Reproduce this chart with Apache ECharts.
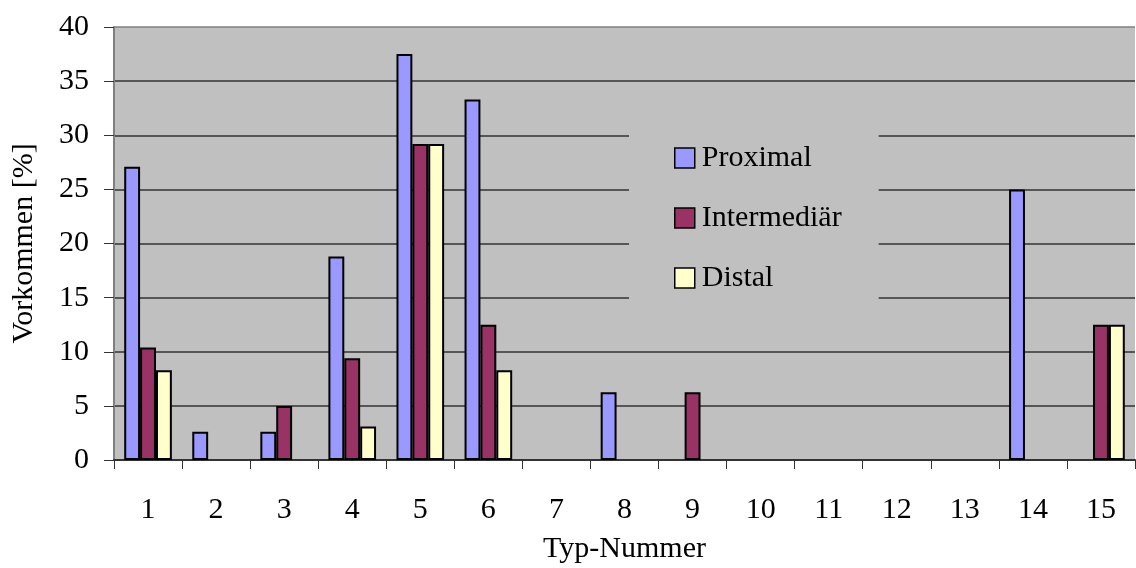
<!DOCTYPE html>
<html>
<head>
<meta charset="utf-8">
<script src="https://cdn.jsdelivr.net/npm/echarts@6/dist/echarts.min.js"></script>
<style>
  html, body { margin: 0; padding: 0; background: #fff; }
  #chart { width: 1136px; height: 568px; }
</style>
</head>
<body>
<div id="chart"></div>
<script>
// Occurrence of each type number, in percent, per region
const categories = ['1','2','3','4','5','6','7','8','9','10','11','12','13','14','15'];
const proximal    = [27.1, 2.6, 2.6, 18.8, 37.5, 33.3, 0, 6.25, 0, 0, 0, 0, 0, 25.0, 0];
const intermediaer = [10.4, 0, 5.0, 9.4, 29.2, 12.5, 0, 0, 6.25, 0, 0, 0, 0, 0, 12.5];
const distal      = [8.3, 0, 0, 3.1, 29.2, 8.3, 0, 0, 0, 0, 0, 0, 0, 0, 12.5];
const seriesNames = ['Proximal', 'Intermediär', 'Distal'];
const seriesColors = ['#9999FF', '#993366', '#FFFFCC'];
const yTicks = { min: 0, max: 40, interval: 5 };

const FONT = "'Liberation Serif', 'Times New Roman', serif";
const FS = 30;

// empty cells stay empty instead of drawing a flat bar
const toBarData = arr => arr.map(v => (v === 0 ? '-' : v));

const chart = echarts.init(document.getElementById('chart'), null, { renderer: 'canvas' });

const splitColors = [];
for (let v = yTicks.min; v <= yTicks.max; v += yTicks.interval) {
  splitColors.push(v === yTicks.max ? '#808080' : '#333333');
}

chart.setOption({
  animation: false,
  backgroundColor: '#ffffff',
  textStyle: { fontFamily: FONT, color: '#000' },
  grid: {
    left: 114, right: 1, top: 27, bottom: 108,
    containLabel: false,
    outerBoundsMode: 'none',
    show: true, backgroundColor: '#C0C0C0', borderColor: '#808080', borderWidth: 0
  },
  legend: {
    orient: 'vertical',
    left: 629, top: 120,
    padding: [23, 37, 27, 45],
    backgroundColor: '#C0C0C0',
    itemWidth: 20, itemHeight: 20, itemGap: 30, icon: 'rect',
    itemStyle: { borderColor: '#000', borderWidth: 1.5 },
    textStyle: { fontFamily: FONT, fontSize: FS, color: '#000', lineHeight: 30, padding: [0, 0, 0, 2] },
    data: seriesNames
  },
  xAxis: {
    type: 'category',
    data: categories,
    boundaryGap: true,
    name: 'Typ-Nummer',
    nameLocation: 'middle',
    nameGap: 74,
    nameTextStyle: { fontFamily: FONT, fontSize: FS, color: '#000' },
    axisLine: { show: true, lineStyle: { color: '#333', width: 2 } },
    axisTick: { show: true, inside: false, length: 9, alignWithLabel: false, lineStyle: { color: '#333', width: 1 } },
    axisLabel: { fontFamily: FONT, fontSize: FS, color: '#000', margin: 35, interval: 0 },
    splitLine: { show: false }
  },
  yAxis: {
    type: 'value',
    min: yTicks.min, max: yTicks.max, interval: yTicks.interval,
    name: 'Vorkommen [%]',
    nameLocation: 'middle',
    nameGap: 75,
    nameRotate: 90,
    nameTextStyle: { fontFamily: FONT, fontSize: FS, color: '#000' },
    axisLine: { show: true, lineStyle: { color: '#808080', width: 2 } },
    axisTick: { show: true, inside: false, length: 10, lineStyle: { color: '#333', width: 1 } },
    axisLabel: { fontFamily: FONT, fontSize: FS, color: '#000', margin: 25 },
    splitLine: { show: true, lineStyle: { color: splitColors, width: 1.5 } }
  },
  series: [proximal, intermediaer, distal].map((arr, i) => ({
    name: seriesNames[i],
    type: 'bar',
    data: toBarData(arr),
    barGap: '0%',
    barCategoryGap: '30%',
    itemStyle: { color: seriesColors[i], borderColor: '#000', borderWidth: 2 },
    z: 3
  }))
});
</script>
</body>
</html>
